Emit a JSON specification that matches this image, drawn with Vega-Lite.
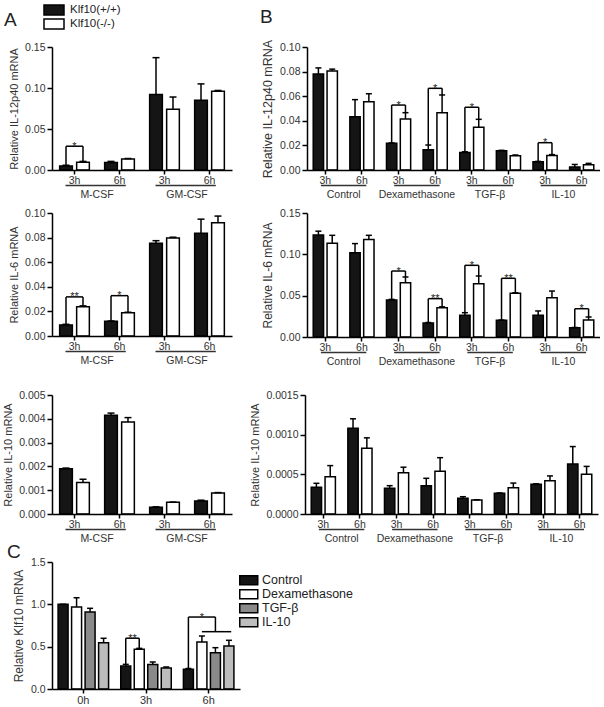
{
  "$schema": "https://vega.github.io/schema/vega-lite/v6.json",
  "background": "white",
  "padding": {"left": 2, "top": 4, "right": 0, "bottom": 0},
  "config": {
    "font": "Liberation Sans",
    "view": {"stroke": null},
    "axis": {"domainColor": "black", "domainWidth": 1.5, "tickColor": "black", "tickWidth": 1.5, "labelFontSize": 10.5, "labelColor": "#333", "titleFontSize": 11, "titleFontWeight": "normal", "titleColor": "#333", "grid": false, "titlePadding": 5, "labelOverlap": false, "labelBound": false},
    "axisY": {"tickSize": 5, "labelPadding": 2, "tickCount": 12},
    "axisX": {"tickSize": 4, "labelPadding": 1, "labelAngle": 0, "bandPosition": 0.5},
    "title": {"fontSize": 19, "fontWeight": "normal", "color": "#222", "anchor": "start", "frame": "group"},
    "legend": {"labelColor": "#222", "labelFontSize": 11.5, "symbolStrokeColor": "black", "symbolStrokeWidth": 1.5, "symbolType": "M-2,-1H2V1H-2Z", "symbolSize": 100, "rowPadding": -3.5, "labelOffset": 10, "title": null, "padding": 0},
    "rule": {"strokeWidth": 1.5, "color": "black"},
    "rect": {"stroke": "black", "strokeWidth": 1.5}
  },
  "datasets": {
    "a1": [
      {"slot": "M-CSF 3h", "geno": "Klf10(+/+)", "mean": 0.005, "upper": 0.0058},
      {"slot": "M-CSF 3h", "geno": "Klf10(-/-)", "mean": 0.0095, "upper": 0.0105},
      {"slot": "M-CSF 6h", "geno": "Klf10(+/+)", "mean": 0.009, "upper": 0.0105},
      {"slot": "M-CSF 6h", "geno": "Klf10(-/-)", "mean": 0.0135, "upper": 0.014},
      {"slot": "GM-CSF 3h", "geno": "Klf10(+/+)", "mean": 0.092, "upper": 0.137},
      {"slot": "GM-CSF 3h", "geno": "Klf10(-/-)", "mean": 0.074, "upper": 0.089},
      {"slot": "GM-CSF 6h", "geno": "Klf10(+/+)", "mean": 0.085, "upper": 0.105},
      {"slot": "GM-CSF 6h", "geno": "Klf10(-/-)", "mean": 0.096, "upper": 0.097}
    ],
    "a1br": [{"slot": "M-CSF 3h", "b": 0.006, "o": 0.0105, "top": 0.029, "sig": "*"}],
    "a2": [
      {"slot": "M-CSF 3h", "geno": "Klf10(+/+)", "mean": 0.009, "upper": 0.0095},
      {"slot": "M-CSF 3h", "geno": "Klf10(-/-)", "mean": 0.0238, "upper": 0.0245},
      {"slot": "M-CSF 6h", "geno": "Klf10(+/+)", "mean": 0.012, "upper": 0.0122},
      {"slot": "M-CSF 6h", "geno": "Klf10(-/-)", "mean": 0.019, "upper": 0.0193},
      {"slot": "GM-CSF 3h", "geno": "Klf10(+/+)", "mean": 0.0754, "upper": 0.0775},
      {"slot": "GM-CSF 3h", "geno": "Klf10(-/-)", "mean": 0.0796, "upper": 0.0803},
      {"slot": "GM-CSF 6h", "geno": "Klf10(+/+)", "mean": 0.0835, "upper": 0.095},
      {"slot": "GM-CSF 6h", "geno": "Klf10(-/-)", "mean": 0.092, "upper": 0.0975}
    ],
    "a2br": [
      {"slot": "M-CSF 3h", "b": 0.0095, "o": 0.0245, "top": 0.0318, "sig": "**"},
      {"slot": "M-CSF 6h", "b": 0.0122, "o": 0.0193, "top": 0.0328, "sig": "*"}
    ],
    "a3": [
      {"slot": "M-CSF 3h", "geno": "Klf10(+/+)", "mean": 0.0019, "upper": 0.00193},
      {"slot": "M-CSF 3h", "geno": "Klf10(-/-)", "mean": 0.00132, "upper": 0.00146},
      {"slot": "M-CSF 6h", "geno": "Klf10(+/+)", "mean": 0.00415, "upper": 0.00424},
      {"slot": "M-CSF 6h", "geno": "Klf10(-/-)", "mean": 0.00387, "upper": 0.00405},
      {"slot": "GM-CSF 3h", "geno": "Klf10(+/+)", "mean": 0.00028, "upper": 0.0003},
      {"slot": "GM-CSF 3h", "geno": "Klf10(-/-)", "mean": 0.00049, "upper": 0.0005},
      {"slot": "GM-CSF 6h", "geno": "Klf10(+/+)", "mean": 0.00055, "upper": 0.00058},
      {"slot": "GM-CSF 6h", "geno": "Klf10(-/-)", "mean": 0.00088, "upper": 0.0009}
    ],
    "b1": [
      {"slot": "Control 3h", "geno": "Klf10(+/+)", "mean": 0.078, "upper": 0.083},
      {"slot": "Control 3h", "geno": "Klf10(-/-)", "mean": 0.0805, "upper": 0.082},
      {"slot": "Control 6h", "geno": "Klf10(+/+)", "mean": 0.0433, "upper": 0.0572},
      {"slot": "Control 6h", "geno": "Klf10(-/-)", "mean": 0.0555, "upper": 0.062},
      {"slot": "Dexamethasone 3h", "geno": "Klf10(+/+)", "mean": 0.0217, "upper": 0.022},
      {"slot": "Dexamethasone 3h", "geno": "Klf10(-/-)", "mean": 0.0415, "upper": 0.0466},
      {"slot": "Dexamethasone 6h", "geno": "Klf10(+/+)", "mean": 0.0165, "upper": 0.0203},
      {"slot": "Dexamethasone 6h", "geno": "Klf10(-/-)", "mean": 0.0466, "upper": 0.061},
      {"slot": "TGF-β 3h", "geno": "Klf10(+/+)", "mean": 0.0143, "upper": 0.0148},
      {"slot": "TGF-β 3h", "geno": "Klf10(-/-)", "mean": 0.0347, "upper": 0.0412},
      {"slot": "TGF-β 6h", "geno": "Klf10(+/+)", "mean": 0.0157, "upper": 0.016},
      {"slot": "TGF-β 6h", "geno": "Klf10(-/-)", "mean": 0.0116, "upper": 0.0122},
      {"slot": "IL-10 3h", "geno": "Klf10(+/+)", "mean": 0.0067, "upper": 0.007},
      {"slot": "IL-10 3h", "geno": "Klf10(-/-)", "mean": 0.0118, "upper": 0.0125},
      {"slot": "IL-10 6h", "geno": "Klf10(+/+)", "mean": 0.0025, "upper": 0.0045},
      {"slot": "IL-10 6h", "geno": "Klf10(-/-)", "mean": 0.0042, "upper": 0.0054}
    ],
    "b1br": [
      {"slot": "Dexamethasone 3h", "b": 0.022, "o": 0.0466, "top": 0.0528, "sig": "*"},
      {"slot": "Dexamethasone 6h", "b": 0.0203, "o": 0.061, "top": 0.0664, "sig": "*"},
      {"slot": "TGF-β 3h", "b": 0.0148, "o": 0.0412, "top": 0.051, "sig": "*"},
      {"slot": "IL-10 3h", "b": 0.007, "o": 0.0125, "top": 0.0222, "sig": "*"}
    ],
    "b2": [
      {"slot": "Control 3h", "geno": "Klf10(+/+)", "mean": 0.1234, "upper": 0.128},
      {"slot": "Control 3h", "geno": "Klf10(-/-)", "mean": 0.1133, "upper": 0.123},
      {"slot": "Control 6h", "geno": "Klf10(+/+)", "mean": 0.102, "upper": 0.113},
      {"slot": "Control 6h", "geno": "Klf10(-/-)", "mean": 0.118, "upper": 0.123},
      {"slot": "Dexamethasone 3h", "geno": "Klf10(+/+)", "mean": 0.0448, "upper": 0.0455},
      {"slot": "Dexamethasone 3h", "geno": "Klf10(-/-)", "mean": 0.0657, "upper": 0.0726},
      {"slot": "Dexamethasone 6h", "geno": "Klf10(+/+)", "mean": 0.0169, "upper": 0.0175},
      {"slot": "Dexamethasone 6h", "geno": "Klf10(-/-)", "mean": 0.0355, "upper": 0.0365},
      {"slot": "TGF-β 3h", "geno": "Klf10(+/+)", "mean": 0.0262, "upper": 0.0294},
      {"slot": "TGF-β 3h", "geno": "Klf10(-/-)", "mean": 0.0645, "upper": 0.0738},
      {"slot": "TGF-β 6h", "geno": "Klf10(+/+)", "mean": 0.0202, "upper": 0.0205},
      {"slot": "TGF-β 6h", "geno": "Klf10(-/-)", "mean": 0.0529, "upper": 0.0535},
      {"slot": "IL-10 3h", "geno": "Klf10(+/+)", "mean": 0.0262, "upper": 0.0315},
      {"slot": "IL-10 3h", "geno": "Klf10(-/-)", "mean": 0.0476, "upper": 0.0556},
      {"slot": "IL-10 6h", "geno": "Klf10(+/+)", "mean": 0.0113, "upper": 0.0115},
      {"slot": "IL-10 6h", "geno": "Klf10(-/-)", "mean": 0.0206, "upper": 0.0242}
    ],
    "b2br": [
      {"slot": "Dexamethasone 3h", "b": 0.0455, "o": 0.0726, "top": 0.0798, "sig": "*"},
      {"slot": "Dexamethasone 6h", "b": 0.0175, "o": 0.0365, "top": 0.0464, "sig": "**"},
      {"slot": "TGF-β 3h", "b": 0.0294, "o": 0.0738, "top": 0.0867, "sig": "*"},
      {"slot": "TGF-β 6h", "b": 0.0205, "o": 0.0535, "top": 0.071, "sig": "**"},
      {"slot": "IL-10 6h", "b": 0.0115, "o": 0.0242, "top": 0.0342, "sig": "*"}
    ],
    "b3": [
      {"slot": "Control 3h", "geno": "Klf10(+/+)", "mean": 0.000336, "upper": 0.000387},
      {"slot": "Control 3h", "geno": "Klf10(-/-)", "mean": 0.00047, "upper": 0.00061},
      {"slot": "Control 6h", "geno": "Klf10(+/+)", "mean": 0.00108, "upper": 0.0012},
      {"slot": "Control 6h", "geno": "Klf10(-/-)", "mean": 0.00083, "upper": 0.00096},
      {"slot": "Dexamethasone 3h", "geno": "Klf10(+/+)", "mean": 0.000324, "upper": 0.000357},
      {"slot": "Dexamethasone 3h", "geno": "Klf10(-/-)", "mean": 0.00052, "upper": 0.00059},
      {"slot": "Dexamethasone 6h", "geno": "Klf10(+/+)", "mean": 0.000357, "upper": 0.00045},
      {"slot": "Dexamethasone 6h", "geno": "Klf10(-/-)", "mean": 0.00054, "upper": 0.00071},
      {"slot": "TGF-β 3h", "geno": "Klf10(+/+)", "mean": 0.000198, "upper": 0.000218},
      {"slot": "TGF-β 3h", "geno": "Klf10(-/-)", "mean": 0.000176, "upper": 0.00018},
      {"slot": "TGF-β 6h", "geno": "Klf10(+/+)", "mean": 0.00026, "upper": 0.000265},
      {"slot": "TGF-β 6h", "geno": "Klf10(-/-)", "mean": 0.00033, "upper": 0.00039},
      {"slot": "IL-10 3h", "geno": "Klf10(+/+)", "mean": 0.000374, "upper": 0.00038},
      {"slot": "IL-10 3h", "geno": "Klf10(-/-)", "mean": 0.00042, "upper": 0.00048},
      {"slot": "IL-10 6h", "geno": "Klf10(+/+)", "mean": 0.00063, "upper": 0.00085},
      {"slot": "IL-10 6h", "geno": "Klf10(-/-)", "mean": 0.0005, "upper": 0.0006}
    ],
    "agrp": [
      {"grp": "M-CSF", "s3": "M-CSF 3h", "s6": "M-CSF 6h"},
      {"grp": "GM-CSF", "s3": "GM-CSF 3h", "s6": "GM-CSF 6h"}
    ],
    "bgrp": [
      {"grp": "Control", "s3": "Control 3h", "s6": "Control 6h"},
      {"grp": "Dexamethasone", "s3": "Dexamethasone 3h", "s6": "Dexamethasone 6h"},
      {"grp": "TGF-β", "s3": "TGF-β 3h", "s6": "TGF-β 6h"},
      {"grp": "IL-10", "s3": "IL-10 3h", "s6": "IL-10 6h"}
    ],
    "c": [
      {"t": "0h", "trt": "Control", "mean": 1.0, "upper": 1.0},
      {"t": "0h", "trt": "Dexamethasone", "mean": 0.968, "upper": 1.078},
      {"t": "0h", "trt": "TGF-β", "mean": 0.909, "upper": 0.953},
      {"t": "0h", "trt": "IL-10", "mean": 0.547, "upper": 0.599},
      {"t": "3h", "trt": "Control", "mean": 0.272, "upper": 0.291},
      {"t": "3h", "trt": "Dexamethasone", "mean": 0.469, "upper": 0.48},
      {"t": "3h", "trt": "TGF-β", "mean": 0.29, "upper": 0.319},
      {"t": "3h", "trt": "IL-10", "mean": 0.248, "upper": 0.26},
      {"t": "6h", "trt": "Control", "mean": 0.232, "upper": 0.242},
      {"t": "6h", "trt": "Dexamethasone", "mean": 0.555, "upper": 0.626},
      {"t": "6h", "trt": "TGF-β", "mean": 0.429, "upper": 0.488},
      {"t": "6h", "trt": "IL-10", "mean": 0.508, "upper": 0.575}
    ],
    "cLegs": [
      {"t": "3h", "trt": "Control", "y1": 0.291, "y2": 0.6},
      {"t": "3h", "trt": "Dexamethasone", "y1": 0.48, "y2": 0.6},
      {"t": "6h", "trt": "Control", "y1": 0.242, "y2": 0.85},
      {"t": "6h", "trt": "TGF-β", "y1": 0.677, "y2": 0.85}
    ],
    "cBr": [
      {"id": "h3", "t": "3h", "y": 0.6, "sig": "**"},
      {"id": "h6", "t": "6h", "y": 0.85, "sig": "*"},
      {"id": "h6b", "t": "6h", "y": 0.677, "sig": ""}
    ]
  },
  "spacing": -2,
  "vconcat": [
    {
      "bounds": "flush",
      "spacing": 75,
      "hconcat": [
        {
          "width": 180, "height": 123,
          "title": {"text": "A", "dx": -48, "offset": 12},
          "layer": [
            {"data": {"name": "a1"}, "transform": [{"filter": "datum.geno === 'Klf10(+/+)'"}], "mark": "rect",
             "encoding": {
               "x": {"field": "slot", "type": "nominal", "title": null, "bandPosition": 0.17, "scale": {"domain": ["M-CSF 3h", "M-CSF 6h", "GM-CSF 3h", "GM-CSF 6h"], "paddingInner": 0, "paddingOuter": 0}, "axis": {"labelExpr": "slice(datum.value, -2)"}},
               "x2": {"field": "slot", "bandPosition": 0.4523},
               "y": {"field": "mean", "type": "quantitative", "title": "Relative IL-12p40 mRNA", "scale": {"domain": [0, 0.15], "nice": false}, "axis": {"values": [0, 0.05, 0.1, 0.15], "format": ".2f", "labelOverlap": false, "tickCount": 12}},
               "y2": {"datum": 0},
               "fill": {"field": "geno", "type": "nominal", "scale": {"domain": ["Klf10(+/+)", "Klf10(-/-)"], "range": ["#151515", "#ffffff"]}, "legend": {"orient": "none", "legendX": -4, "legendY": -43}}
             }},
            {"data": {"name": "a1"}, "transform": [{"filter": "datum.geno === 'Klf10(-/-)'"}], "mark": "rect",
             "encoding": {"x": {"field": "slot", "type": "nominal", "title": null, "bandPosition": 0.5477}, "x2": {"field": "slot", "bandPosition": 0.83}, "y": {"field": "mean", "type": "quantitative"}, "y2": {"datum": 0}, "fill": {"field": "geno", "type": "nominal"}}},
            {"data": {"name": "a1"}, "transform": [{"filter": "datum.geno === 'Klf10(+/+)'"}], "mark": "rule",
             "encoding": {"x": {"field": "slot", "type": "nominal", "title": null, "bandPosition": 0.3113}, "y": {"field": "mean", "type": "quantitative"}, "y2": {"field": "upper"}}},
            {"data": {"name": "a1"}, "transform": [{"filter": "datum.geno === 'Klf10(-/-)'"}], "mark": "rule",
             "encoding": {"x": {"field": "slot", "type": "nominal", "title": null, "bandPosition": 0.6887}, "y": {"field": "mean", "type": "quantitative"}, "y2": {"field": "upper"}}},
            {"data": {"name": "a1"}, "transform": [{"filter": "datum.geno === 'Klf10(+/+)'"}], "mark": "rule",
             "encoding": {"x": {"field": "slot", "type": "nominal", "title": null, "bandPosition": 0.2335}, "x2": {"field": "slot", "bandPosition": 0.3891}, "y": {"field": "upper", "type": "quantitative"}}},
            {"data": {"name": "a1"}, "transform": [{"filter": "datum.geno === 'Klf10(-/-)'"}], "mark": "rule",
             "encoding": {"x": {"field": "slot", "type": "nominal", "title": null, "bandPosition": 0.6109}, "x2": {"field": "slot", "bandPosition": 0.7665}, "y": {"field": "upper", "type": "quantitative"}}},
            {"data": {"name": "a1br"}, "mark": "rule",
             "encoding": {"x": {"field": "slot", "type": "nominal", "title": null, "bandPosition": 0.3113}, "y": {"field": "b", "type": "quantitative"}, "y2": {"field": "top"}}},
            {"data": {"name": "a1br"}, "mark": "rule",
             "encoding": {"x": {"field": "slot", "type": "nominal", "title": null, "bandPosition": 0.6887}, "y": {"field": "o", "type": "quantitative"}, "y2": {"field": "top"}}},
            {"data": {"name": "a1br"}, "mark": "rule",
             "encoding": {"x": {"field": "slot", "type": "nominal", "title": null, "bandPosition": 0.3113}, "x2": {"field": "slot", "bandPosition": 0.6887}, "y": {"field": "top", "type": "quantitative"}}},
            {"data": {"name": "a1br"}, "mark": {"type": "text", "baseline": "alphabetic", "dy": 3.5, "fontSize": 11, "color": "#222"},
             "encoding": {"x": {"field": "slot", "type": "nominal", "title": null, "bandPosition": 0.5}, "y": {"field": "top", "type": "quantitative"}, "text": {"field": "sig"}}},
            {"data": {"name": "agrp"}, "mark": {"type": "rule", "color": "#333"},
             "encoding": {"x": {"field": "s3", "type": "nominal", "title": null, "bandPosition": 0.3}, "x2": {"field": "s6", "bandPosition": 0.64}, "y": {"datum": -0.0189, "type": "quantitative"}}},
            {"data": {"name": "agrp"}, "mark": {"type": "text", "baseline": "top", "fontSize": 10.5, "color": "#333"},
             "encoding": {"x": {"field": "s3", "type": "nominal", "title": null, "bandPosition": 1}, "y": {"datum": -0.0244, "type": "quantitative"}, "text": {"field": "grp"}}}
          ]
        },
        {
          "width": 293, "height": 123,
          "title": {"text": "B", "dx": -47, "offset": 12},
          "layer": [
            {"data": {"name": "b1"}, "transform": [{"filter": "datum.geno === 'Klf10(+/+)'"}], "mark": "rect",
             "encoding": {
               "x": {"field": "slot", "type": "nominal", "title": null, "bandPosition": 0.17, "scale": {"domain": ["Control 3h", "Control 6h", "Dexamethasone 3h", "Dexamethasone 6h", "TGF-β 3h", "TGF-β 6h", "IL-10 3h", "IL-10 6h"], "paddingInner": 0, "paddingOuter": 0}, "axis": {"labelExpr": "slice(datum.value, -2)"}},
               "x2": {"field": "slot", "bandPosition": 0.4523},
               "y": {"field": "mean", "type": "quantitative", "title": "Relative IL-12p40 mRNA", "scale": {"domain": [0, 0.1], "nice": false}, "axis": {"values": [0, 0.02, 0.04, 0.06, 0.08, 0.1], "format": ".2f", "titleFontSize": 12.5, "labelOverlap": false, "tickCount": 12}},
               "y2": {"datum": 0},
               "fill": {"field": "geno", "type": "nominal", "scale": {"domain": ["Klf10(+/+)", "Klf10(-/-)"], "range": ["#151515", "#ffffff"]}, "legend": {"orient": "none", "legendX": 0, "legendY": -43}}
             }},
            {"data": {"name": "b1"}, "transform": [{"filter": "datum.geno === 'Klf10(-/-)'"}], "mark": "rect",
             "encoding": {"x": {"field": "slot", "type": "nominal", "title": null, "bandPosition": 0.5477}, "x2": {"field": "slot", "bandPosition": 0.83}, "y": {"field": "mean", "type": "quantitative"}, "y2": {"datum": 0}, "fill": {"field": "geno", "type": "nominal"}}},
            {"data": {"name": "b1"}, "transform": [{"filter": "datum.geno === 'Klf10(+/+)'"}], "mark": "rule",
             "encoding": {"x": {"field": "slot", "type": "nominal", "title": null, "bandPosition": 0.3113}, "y": {"field": "mean", "type": "quantitative"}, "y2": {"field": "upper"}}},
            {"data": {"name": "b1"}, "transform": [{"filter": "datum.geno === 'Klf10(-/-)'"}], "mark": "rule",
             "encoding": {"x": {"field": "slot", "type": "nominal", "title": null, "bandPosition": 0.6887}, "y": {"field": "mean", "type": "quantitative"}, "y2": {"field": "upper"}}},
            {"data": {"name": "b1"}, "transform": [{"filter": "datum.geno === 'Klf10(+/+)'"}], "mark": "rule",
             "encoding": {"x": {"field": "slot", "type": "nominal", "title": null, "bandPosition": 0.2293}, "x2": {"field": "slot", "bandPosition": 0.3933}, "y": {"field": "upper", "type": "quantitative"}}},
            {"data": {"name": "b1"}, "transform": [{"filter": "datum.geno === 'Klf10(-/-)'"}], "mark": "rule",
             "encoding": {"x": {"field": "slot", "type": "nominal", "title": null, "bandPosition": 0.6067}, "x2": {"field": "slot", "bandPosition": 0.7707}, "y": {"field": "upper", "type": "quantitative"}}},
            {"data": {"name": "b1br"}, "mark": "rule",
             "encoding": {"x": {"field": "slot", "type": "nominal", "title": null, "bandPosition": 0.3113}, "y": {"field": "b", "type": "quantitative"}, "y2": {"field": "top"}}},
            {"data": {"name": "b1br"}, "mark": "rule",
             "encoding": {"x": {"field": "slot", "type": "nominal", "title": null, "bandPosition": 0.6887}, "y": {"field": "o", "type": "quantitative"}, "y2": {"field": "top"}}},
            {"data": {"name": "b1br"}, "mark": "rule",
             "encoding": {"x": {"field": "slot", "type": "nominal", "title": null, "bandPosition": 0.3113}, "x2": {"field": "slot", "bandPosition": 0.6887}, "y": {"field": "top", "type": "quantitative"}}},
            {"data": {"name": "b1br"}, "mark": {"type": "text", "baseline": "alphabetic", "dy": 3.5, "fontSize": 11, "color": "#222"},
             "encoding": {"x": {"field": "slot", "type": "nominal", "title": null, "bandPosition": 0.5}, "y": {"field": "top", "type": "quantitative"}, "text": {"field": "sig"}}},
            {"data": {"name": "bgrp"}, "mark": {"type": "rule", "color": "#333"},
             "encoding": {"x": {"field": "s3", "type": "nominal", "title": null, "bandPosition": 0.38}, "x2": {"field": "s6", "bandPosition": 0.62}, "y": {"datum": -0.0126, "type": "quantitative"}}},
            {"data": {"name": "bgrp"}, "mark": {"type": "text", "baseline": "top", "fontSize": 10.5, "color": "#333"},
             "encoding": {"x": {"field": "s3", "type": "nominal", "title": null, "bandPosition": 1}, "y": {"datum": -0.0163, "type": "quantitative"}, "text": {"field": "grp"}}}
          ]
        }
      ]
    },
    {
      "bounds": "flush",
      "spacing": 75,
      "hconcat": [
        {
          "width": 180, "height": 123,
          "title": {"text": " ", "fontSize": 10, "offset": -1},
          "layer": [
            {"data": {"name": "a2"}, "transform": [{"filter": "datum.geno === 'Klf10(+/+)'"}], "mark": "rect",
             "encoding": {
               "x": {"field": "slot", "type": "nominal", "title": null, "bandPosition": 0.17, "scale": {"domain": ["M-CSF 3h", "M-CSF 6h", "GM-CSF 3h", "GM-CSF 6h"], "paddingInner": 0, "paddingOuter": 0}, "axis": {"labelExpr": "slice(datum.value, -2)"}},
               "x2": {"field": "slot", "bandPosition": 0.4523},
               "y": {"field": "mean", "type": "quantitative", "title": "Relative IL-6 mRNA", "scale": {"domain": [0, 0.1], "nice": false}, "axis": {"values": [0, 0.02, 0.04, 0.06, 0.08, 0.1], "format": ".2f", "labelOverlap": false, "tickCount": 12}},
               "y2": {"datum": 0},
               "fill": {"field": "geno", "type": "nominal", "scale": {"domain": ["Klf10(+/+)", "Klf10(-/-)"], "range": ["#151515", "#ffffff"]}, "legend": null}
             }},
            {"data": {"name": "a2"}, "transform": [{"filter": "datum.geno === 'Klf10(-/-)'"}], "mark": "rect",
             "encoding": {"x": {"field": "slot", "type": "nominal", "title": null, "bandPosition": 0.5477}, "x2": {"field": "slot", "bandPosition": 0.83}, "y": {"field": "mean", "type": "quantitative"}, "y2": {"datum": 0}, "fill": {"field": "geno", "type": "nominal"}}},
            {"data": {"name": "a2"}, "transform": [{"filter": "datum.geno === 'Klf10(+/+)'"}], "mark": "rule",
             "encoding": {"x": {"field": "slot", "type": "nominal", "title": null, "bandPosition": 0.3113}, "y": {"field": "mean", "type": "quantitative"}, "y2": {"field": "upper"}}},
            {"data": {"name": "a2"}, "transform": [{"filter": "datum.geno === 'Klf10(-/-)'"}], "mark": "rule",
             "encoding": {"x": {"field": "slot", "type": "nominal", "title": null, "bandPosition": 0.6887}, "y": {"field": "mean", "type": "quantitative"}, "y2": {"field": "upper"}}},
            {"data": {"name": "a2"}, "transform": [{"filter": "datum.geno === 'Klf10(+/+)'"}], "mark": "rule",
             "encoding": {"x": {"field": "slot", "type": "nominal", "title": null, "bandPosition": 0.2335}, "x2": {"field": "slot", "bandPosition": 0.3891}, "y": {"field": "upper", "type": "quantitative"}}},
            {"data": {"name": "a2"}, "transform": [{"filter": "datum.geno === 'Klf10(-/-)'"}], "mark": "rule",
             "encoding": {"x": {"field": "slot", "type": "nominal", "title": null, "bandPosition": 0.6109}, "x2": {"field": "slot", "bandPosition": 0.7665}, "y": {"field": "upper", "type": "quantitative"}}},
            {"data": {"name": "a2br"}, "mark": "rule",
             "encoding": {"x": {"field": "slot", "type": "nominal", "title": null, "bandPosition": 0.3113}, "y": {"field": "b", "type": "quantitative"}, "y2": {"field": "top"}}},
            {"data": {"name": "a2br"}, "mark": "rule",
             "encoding": {"x": {"field": "slot", "type": "nominal", "title": null, "bandPosition": 0.6887}, "y": {"field": "o", "type": "quantitative"}, "y2": {"field": "top"}}},
            {"data": {"name": "a2br"}, "mark": "rule",
             "encoding": {"x": {"field": "slot", "type": "nominal", "title": null, "bandPosition": 0.3113}, "x2": {"field": "slot", "bandPosition": 0.6887}, "y": {"field": "top", "type": "quantitative"}}},
            {"data": {"name": "a2br"}, "mark": {"type": "text", "baseline": "alphabetic", "dy": 3.5, "fontSize": 11, "color": "#222"},
             "encoding": {"x": {"field": "slot", "type": "nominal", "title": null, "bandPosition": 0.5}, "y": {"field": "top", "type": "quantitative"}, "text": {"field": "sig"}}},
            {"data": {"name": "agrp"}, "mark": {"type": "rule", "color": "#333"},
             "encoding": {"x": {"field": "s3", "type": "nominal", "title": null, "bandPosition": 0.3}, "x2": {"field": "s6", "bandPosition": 0.64}, "y": {"datum": -0.0126, "type": "quantitative"}}},
            {"data": {"name": "agrp"}, "mark": {"type": "text", "baseline": "top", "fontSize": 10.5, "color": "#333"},
             "encoding": {"x": {"field": "s3", "type": "nominal", "title": null, "bandPosition": 1}, "y": {"datum": -0.0163, "type": "quantitative"}, "text": {"field": "grp"}}}
          ]
        },
        {
          "width": 293, "height": 124,
          "layer": [
            {"data": {"name": "b2"}, "transform": [{"filter": "datum.geno === 'Klf10(+/+)'"}], "mark": "rect",
             "encoding": {
               "x": {"field": "slot", "type": "nominal", "title": null, "bandPosition": 0.17, "scale": {"domain": ["Control 3h", "Control 6h", "Dexamethasone 3h", "Dexamethasone 6h", "TGF-β 3h", "TGF-β 6h", "IL-10 3h", "IL-10 6h"], "paddingInner": 0, "paddingOuter": 0}, "axis": {"labelExpr": "slice(datum.value, -2)"}},
               "x2": {"field": "slot", "bandPosition": 0.4523},
               "y": {"field": "mean", "type": "quantitative", "title": "Relative IL-6 mRNA", "scale": {"domain": [0, 0.15], "nice": false}, "axis": {"values": [0, 0.05, 0.1, 0.15], "format": ".2f", "titleFontSize": 12, "labelOverlap": false, "tickCount": 12}},
               "y2": {"datum": 0},
               "fill": {"field": "geno", "type": "nominal", "scale": {"domain": ["Klf10(+/+)", "Klf10(-/-)"], "range": ["#151515", "#ffffff"]}, "legend": null}
             }},
            {"data": {"name": "b2"}, "transform": [{"filter": "datum.geno === 'Klf10(-/-)'"}], "mark": "rect",
             "encoding": {"x": {"field": "slot", "type": "nominal", "title": null, "bandPosition": 0.5477}, "x2": {"field": "slot", "bandPosition": 0.83}, "y": {"field": "mean", "type": "quantitative"}, "y2": {"datum": 0}, "fill": {"field": "geno", "type": "nominal"}}},
            {"data": {"name": "b2"}, "transform": [{"filter": "datum.geno === 'Klf10(+/+)'"}], "mark": "rule",
             "encoding": {"x": {"field": "slot", "type": "nominal", "title": null, "bandPosition": 0.3113}, "y": {"field": "mean", "type": "quantitative"}, "y2": {"field": "upper"}}},
            {"data": {"name": "b2"}, "transform": [{"filter": "datum.geno === 'Klf10(-/-)'"}], "mark": "rule",
             "encoding": {"x": {"field": "slot", "type": "nominal", "title": null, "bandPosition": 0.6887}, "y": {"field": "mean", "type": "quantitative"}, "y2": {"field": "upper"}}},
            {"data": {"name": "b2"}, "transform": [{"filter": "datum.geno === 'Klf10(+/+)'"}], "mark": "rule",
             "encoding": {"x": {"field": "slot", "type": "nominal", "title": null, "bandPosition": 0.2293}, "x2": {"field": "slot", "bandPosition": 0.3933}, "y": {"field": "upper", "type": "quantitative"}}},
            {"data": {"name": "b2"}, "transform": [{"filter": "datum.geno === 'Klf10(-/-)'"}], "mark": "rule",
             "encoding": {"x": {"field": "slot", "type": "nominal", "title": null, "bandPosition": 0.6067}, "x2": {"field": "slot", "bandPosition": 0.7707}, "y": {"field": "upper", "type": "quantitative"}}},
            {"data": {"name": "b2br"}, "mark": "rule",
             "encoding": {"x": {"field": "slot", "type": "nominal", "title": null, "bandPosition": 0.3113}, "y": {"field": "b", "type": "quantitative"}, "y2": {"field": "top"}}},
            {"data": {"name": "b2br"}, "mark": "rule",
             "encoding": {"x": {"field": "slot", "type": "nominal", "title": null, "bandPosition": 0.6887}, "y": {"field": "o", "type": "quantitative"}, "y2": {"field": "top"}}},
            {"data": {"name": "b2br"}, "mark": "rule",
             "encoding": {"x": {"field": "slot", "type": "nominal", "title": null, "bandPosition": 0.3113}, "x2": {"field": "slot", "bandPosition": 0.6887}, "y": {"field": "top", "type": "quantitative"}}},
            {"data": {"name": "b2br"}, "mark": {"type": "text", "baseline": "alphabetic", "dy": 3.5, "fontSize": 11, "color": "#222"},
             "encoding": {"x": {"field": "slot", "type": "nominal", "title": null, "bandPosition": 0.5}, "y": {"field": "top", "type": "quantitative"}, "text": {"field": "sig"}}},
            {"data": {"name": "bgrp"}, "mark": {"type": "rule", "color": "#333"},
             "encoding": {"x": {"field": "s3", "type": "nominal", "title": null, "bandPosition": 0.38}, "x2": {"field": "s6", "bandPosition": 0.62}, "y": {"datum": -0.01875, "type": "quantitative"}}},
            {"data": {"name": "bgrp"}, "mark": {"type": "text", "baseline": "top", "fontSize": 10.5, "color": "#333"},
             "encoding": {"x": {"field": "s3", "type": "nominal", "title": null, "bandPosition": 1}, "y": {"datum": -0.0242, "type": "quantitative"}, "text": {"field": "grp"}}}
          ]
        }
      ]
    },
    {
      "bounds": "flush",
      "spacing": 73,
      "hconcat": [
        {
          "width": 180, "height": 119,
          "title": {"text": " ", "fontSize": 10, "offset": 14},
          "layer": [
            {"data": {"name": "a3"}, "transform": [{"filter": "datum.geno === 'Klf10(+/+)'"}], "mark": "rect",
             "encoding": {
               "x": {"field": "slot", "type": "nominal", "title": null, "bandPosition": 0.17, "scale": {"domain": ["M-CSF 3h", "M-CSF 6h", "GM-CSF 3h", "GM-CSF 6h"], "paddingInner": 0, "paddingOuter": 0}, "axis": {"labelExpr": "slice(datum.value, -2)"}},
               "x2": {"field": "slot", "bandPosition": 0.4523},
               "y": {"field": "mean", "type": "quantitative", "title": "Relative IL-10 mRNA", "scale": {"domain": [0, 0.005], "nice": false}, "axis": {"values": [0, 0.001, 0.002, 0.003, 0.004, 0.005], "format": ".3f", "labelOverlap": false, "tickCount": 12}},
               "y2": {"datum": 0},
               "fill": {"field": "geno", "type": "nominal", "scale": {"domain": ["Klf10(+/+)", "Klf10(-/-)"], "range": ["#151515", "#ffffff"]}, "legend": null}
             }},
            {"data": {"name": "a3"}, "transform": [{"filter": "datum.geno === 'Klf10(-/-)'"}], "mark": "rect",
             "encoding": {"x": {"field": "slot", "type": "nominal", "title": null, "bandPosition": 0.5477}, "x2": {"field": "slot", "bandPosition": 0.83}, "y": {"field": "mean", "type": "quantitative"}, "y2": {"datum": 0}, "fill": {"field": "geno", "type": "nominal"}}},
            {"data": {"name": "a3"}, "transform": [{"filter": "datum.geno === 'Klf10(+/+)'"}], "mark": "rule",
             "encoding": {"x": {"field": "slot", "type": "nominal", "title": null, "bandPosition": 0.3113}, "y": {"field": "mean", "type": "quantitative"}, "y2": {"field": "upper"}}},
            {"data": {"name": "a3"}, "transform": [{"filter": "datum.geno === 'Klf10(-/-)'"}], "mark": "rule",
             "encoding": {"x": {"field": "slot", "type": "nominal", "title": null, "bandPosition": 0.6887}, "y": {"field": "mean", "type": "quantitative"}, "y2": {"field": "upper"}}},
            {"data": {"name": "a3"}, "transform": [{"filter": "datum.geno === 'Klf10(+/+)'"}], "mark": "rule",
             "encoding": {"x": {"field": "slot", "type": "nominal", "title": null, "bandPosition": 0.2335}, "x2": {"field": "slot", "bandPosition": 0.3891}, "y": {"field": "upper", "type": "quantitative"}}},
            {"data": {"name": "a3"}, "transform": [{"filter": "datum.geno === 'Klf10(-/-)'"}], "mark": "rule",
             "encoding": {"x": {"field": "slot", "type": "nominal", "title": null, "bandPosition": 0.6109}, "x2": {"field": "slot", "bandPosition": 0.7665}, "y": {"field": "upper", "type": "quantitative"}}},
            {"data": {"name": "agrp"}, "mark": {"type": "rule", "color": "#333"},
             "encoding": {"x": {"field": "s3", "type": "nominal", "title": null, "bandPosition": 0.3}, "x2": {"field": "s6", "bandPosition": 0.64}, "y": {"datum": -0.000651, "type": "quantitative"}}},
            {"data": {"name": "agrp"}, "mark": {"type": "text", "baseline": "top", "fontSize": 10.5, "color": "#333"},
             "encoding": {"x": {"field": "s3", "type": "nominal", "title": null, "bandPosition": 1}, "y": {"datum": -0.00084, "type": "quantitative"}, "text": {"field": "grp"}}}
          ]
        },
        {
          "width": 293, "height": 119,
          "layer": [
            {"data": {"name": "b3"}, "transform": [{"filter": "datum.geno === 'Klf10(+/+)'"}], "mark": "rect",
             "encoding": {
               "x": {"field": "slot", "type": "nominal", "title": null, "bandPosition": 0.17, "scale": {"domain": ["Control 3h", "Control 6h", "Dexamethasone 3h", "Dexamethasone 6h", "TGF-β 3h", "TGF-β 6h", "IL-10 3h", "IL-10 6h"], "paddingInner": 0, "paddingOuter": 0}, "axis": {"labelExpr": "slice(datum.value, -2)"}},
               "x2": {"field": "slot", "bandPosition": 0.4523},
               "y": {"field": "mean", "type": "quantitative", "title": "Relative IL-10 mRNA", "scale": {"domain": [0, 0.0015], "nice": false}, "axis": {"values": [0, 0.0005, 0.001, 0.0015], "format": ".4f", "labelOverlap": false, "tickCount": 12}},
               "y2": {"datum": 0},
               "fill": {"field": "geno", "type": "nominal", "scale": {"domain": ["Klf10(+/+)", "Klf10(-/-)"], "range": ["#151515", "#ffffff"]}, "legend": null}
             }},
            {"data": {"name": "b3"}, "transform": [{"filter": "datum.geno === 'Klf10(-/-)'"}], "mark": "rect",
             "encoding": {"x": {"field": "slot", "type": "nominal", "title": null, "bandPosition": 0.5477}, "x2": {"field": "slot", "bandPosition": 0.83}, "y": {"field": "mean", "type": "quantitative"}, "y2": {"datum": 0}, "fill": {"field": "geno", "type": "nominal"}}},
            {"data": {"name": "b3"}, "transform": [{"filter": "datum.geno === 'Klf10(+/+)'"}], "mark": "rule",
             "encoding": {"x": {"field": "slot", "type": "nominal", "title": null, "bandPosition": 0.3113}, "y": {"field": "mean", "type": "quantitative"}, "y2": {"field": "upper"}}},
            {"data": {"name": "b3"}, "transform": [{"filter": "datum.geno === 'Klf10(-/-)'"}], "mark": "rule",
             "encoding": {"x": {"field": "slot", "type": "nominal", "title": null, "bandPosition": 0.6887}, "y": {"field": "mean", "type": "quantitative"}, "y2": {"field": "upper"}}},
            {"data": {"name": "b3"}, "transform": [{"filter": "datum.geno === 'Klf10(+/+)'"}], "mark": "rule",
             "encoding": {"x": {"field": "slot", "type": "nominal", "title": null, "bandPosition": 0.2293}, "x2": {"field": "slot", "bandPosition": 0.3933}, "y": {"field": "upper", "type": "quantitative"}}},
            {"data": {"name": "b3"}, "transform": [{"filter": "datum.geno === 'Klf10(-/-)'"}], "mark": "rule",
             "encoding": {"x": {"field": "slot", "type": "nominal", "title": null, "bandPosition": 0.6067}, "x2": {"field": "slot", "bandPosition": 0.7707}, "y": {"field": "upper", "type": "quantitative"}}},
            {"data": {"name": "bgrp"}, "mark": {"type": "rule", "color": "#333"},
             "encoding": {"x": {"field": "s3", "type": "nominal", "title": null, "bandPosition": 0.38}, "x2": {"field": "s6", "bandPosition": 0.62}, "y": {"datum": -0.000195, "type": "quantitative"}}},
            {"data": {"name": "bgrp"}, "mark": {"type": "text", "baseline": "top", "fontSize": 10.5, "color": "#333"},
             "encoding": {"x": {"field": "s3", "type": "nominal", "title": null, "bandPosition": 1}, "y": {"datum": -0.000252, "type": "quantitative"}, "text": {"field": "grp"}}}
          ]
        }
      ]
    },
    {
      "width": 188, "height": 127,
      "title": {"text": "C", "dx": -45, "offset": -5},
      "layer": [
        {"data": {"name": "c"}, "transform": [{"filter": "datum.trt === 'Control'"}], "mark": "rect",
         "encoding": {
           "x": {"field": "t", "type": "nominal", "title": null, "bandPosition": 0.097, "scale": {"domain": ["0h", "3h", "6h"], "paddingInner": 0, "paddingOuter": 0}, "axis": {"labelFontSize": 11}},
           "x2": {"field": "t", "bandPosition": 0.2565},
           "y": {"field": "mean", "type": "quantitative", "title": "Relative Klf10 mRNA", "scale": {"domain": [0, 1.5], "nice": false}, "axis": {"values": [0, 0.5, 1, 1.5], "format": ".1f", "titleFontSize": 12, "labelOverlap": false, "tickCount": 12}},
           "y2": {"datum": 0},
           "fill": {"field": "trt", "type": "nominal", "scale": {"domain": ["Control", "Dexamethasone", "TGF-β", "IL-10"], "range": ["#151515", "#ffffff", "#8a8a8a", "#bdbdbd"]}, "legend": {"orient": "none", "legendX": 190.5, "legendY": 12, "labelFontSize": 12.5, "symbolSize": 81, "rowPadding": -2.2, "labelOffset": 7}}
         }},
        {"data": {"name": "c"}, "transform": [{"filter": "datum.trt === 'Dexamethasone'"}], "mark": "rect",
         "encoding": {"x": {"field": "t", "type": "nominal", "title": null, "bandPosition": 0.3125}, "x2": {"field": "t", "bandPosition": 0.472}, "y": {"field": "mean", "type": "quantitative"}, "y2": {"datum": 0}, "fill": {"field": "trt", "type": "nominal"}}},
        {"data": {"name": "c"}, "transform": [{"filter": "datum.trt === 'TGF-β'"}], "mark": "rect",
         "encoding": {"x": {"field": "t", "type": "nominal", "title": null, "bandPosition": 0.528}, "x2": {"field": "t", "bandPosition": 0.6875}, "y": {"field": "mean", "type": "quantitative"}, "y2": {"datum": 0}, "fill": {"field": "trt", "type": "nominal"}}},
        {"data": {"name": "c"}, "transform": [{"filter": "datum.trt === 'IL-10'"}], "mark": "rect",
         "encoding": {"x": {"field": "t", "type": "nominal", "title": null, "bandPosition": 0.7435}, "x2": {"field": "t", "bandPosition": 0.903}, "y": {"field": "mean", "type": "quantitative"}, "y2": {"datum": 0}, "fill": {"field": "trt", "type": "nominal"}}},
        {"data": {"name": "c"}, "transform": [{"filter": "datum.trt === 'Control'"}], "mark": "rule",
         "encoding": {"x": {"field": "t", "type": "nominal", "title": null, "bandPosition": 0.1767}, "y": {"field": "mean", "type": "quantitative"}, "y2": {"field": "upper"}}},
        {"data": {"name": "c"}, "transform": [{"filter": "datum.trt === 'Dexamethasone'"}], "mark": "rule",
         "encoding": {"x": {"field": "t", "type": "nominal", "title": null, "bandPosition": 0.3922}, "y": {"field": "mean", "type": "quantitative"}, "y2": {"field": "upper"}}},
        {"data": {"name": "c"}, "transform": [{"filter": "datum.trt === 'TGF-β'"}], "mark": "rule",
         "encoding": {"x": {"field": "t", "type": "nominal", "title": null, "bandPosition": 0.6078}, "y": {"field": "mean", "type": "quantitative"}, "y2": {"field": "upper"}}},
        {"data": {"name": "c"}, "transform": [{"filter": "datum.trt === 'IL-10'"}], "mark": "rule",
         "encoding": {"x": {"field": "t", "type": "nominal", "title": null, "bandPosition": 0.8233}, "y": {"field": "mean", "type": "quantitative"}, "y2": {"field": "upper"}}},
        {"data": {"name": "c"}, "transform": [{"filter": "datum.trt === 'Control'"}], "mark": "rule",
         "encoding": {"x": {"field": "t", "type": "nominal", "title": null, "bandPosition": 0.1287}, "x2": {"field": "t", "bandPosition": 0.2247}, "y": {"field": "upper", "type": "quantitative"}}},
        {"data": {"name": "c"}, "transform": [{"filter": "datum.trt === 'Dexamethasone'"}], "mark": "rule",
         "encoding": {"x": {"field": "t", "type": "nominal", "title": null, "bandPosition": 0.3442}, "x2": {"field": "t", "bandPosition": 0.4402}, "y": {"field": "upper", "type": "quantitative"}}},
        {"data": {"name": "c"}, "transform": [{"filter": "datum.trt === 'TGF-β'"}], "mark": "rule",
         "encoding": {"x": {"field": "t", "type": "nominal", "title": null, "bandPosition": 0.5598}, "x2": {"field": "t", "bandPosition": 0.6558}, "y": {"field": "upper", "type": "quantitative"}}},
        {"data": {"name": "c"}, "transform": [{"filter": "datum.trt === 'IL-10'"}], "mark": "rule",
         "encoding": {"x": {"field": "t", "type": "nominal", "title": null, "bandPosition": 0.7753}, "x2": {"field": "t", "bandPosition": 0.8713}, "y": {"field": "upper", "type": "quantitative"}}},
        {"data": {"name": "cLegs"}, "transform": [{"filter": "datum.trt === 'Control'"}], "mark": "rule",
         "encoding": {"x": {"field": "t", "type": "nominal", "title": null, "bandPosition": 0.1767}, "y": {"field": "y1", "type": "quantitative"}, "y2": {"field": "y2"}}},
        {"data": {"name": "cLegs"}, "transform": [{"filter": "datum.trt === 'Dexamethasone'"}], "mark": "rule",
         "encoding": {"x": {"field": "t", "type": "nominal", "title": null, "bandPosition": 0.3922}, "y": {"field": "y1", "type": "quantitative"}, "y2": {"field": "y2"}}},
        {"data": {"name": "cLegs"}, "transform": [{"filter": "datum.trt === 'TGF-β'"}], "mark": "rule",
         "encoding": {"x": {"field": "t", "type": "nominal", "title": null, "bandPosition": 0.6078}, "y": {"field": "y1", "type": "quantitative"}, "y2": {"field": "y2"}}},
        {"data": {"name": "cBr"}, "transform": [{"filter": "datum.id === 'h3'"}], "mark": "rule",
         "encoding": {"x": {"field": "t", "type": "nominal", "title": null, "bandPosition": 0.1767}, "x2": {"field": "t", "bandPosition": 0.3922}, "y": {"field": "y", "type": "quantitative"}}},
        {"data": {"name": "cBr"}, "transform": [{"filter": "datum.id === 'h3'"}], "mark": {"type": "text", "baseline": "alphabetic", "dy": 3.5, "fontSize": 11, "color": "#222"},
         "encoding": {"x": {"field": "t", "type": "nominal", "title": null, "bandPosition": 0.2845}, "y": {"field": "y", "type": "quantitative"}, "text": {"field": "sig"}}},
        {"data": {"name": "cBr"}, "transform": [{"filter": "datum.id === 'h6'"}], "mark": "rule",
         "encoding": {"x": {"field": "t", "type": "nominal", "title": null, "bandPosition": 0.1767}, "x2": {"field": "t", "bandPosition": 0.6078}, "y": {"field": "y", "type": "quantitative"}}},
        {"data": {"name": "cBr"}, "transform": [{"filter": "datum.id === 'h6'"}], "mark": {"type": "text", "baseline": "alphabetic", "dy": 3.5, "fontSize": 11, "color": "#222"},
         "encoding": {"x": {"field": "t", "type": "nominal", "title": null, "bandPosition": 0.39}, "y": {"field": "y", "type": "quantitative"}, "text": {"field": "sig"}}},
        {"data": {"name": "cBr"}, "transform": [{"filter": "datum.id === 'h6b'"}], "mark": "rule",
         "encoding": {"x": {"field": "t", "type": "nominal", "title": null, "bandPosition": 0.3922}, "x2": {"field": "t", "bandPosition": 0.86}, "y": {"field": "y", "type": "quantitative"}}}
      ]
    }
  ],
  "resolve": {"scale": {"fill": "independent"}, "legend": {"fill": "independent"}}
}
